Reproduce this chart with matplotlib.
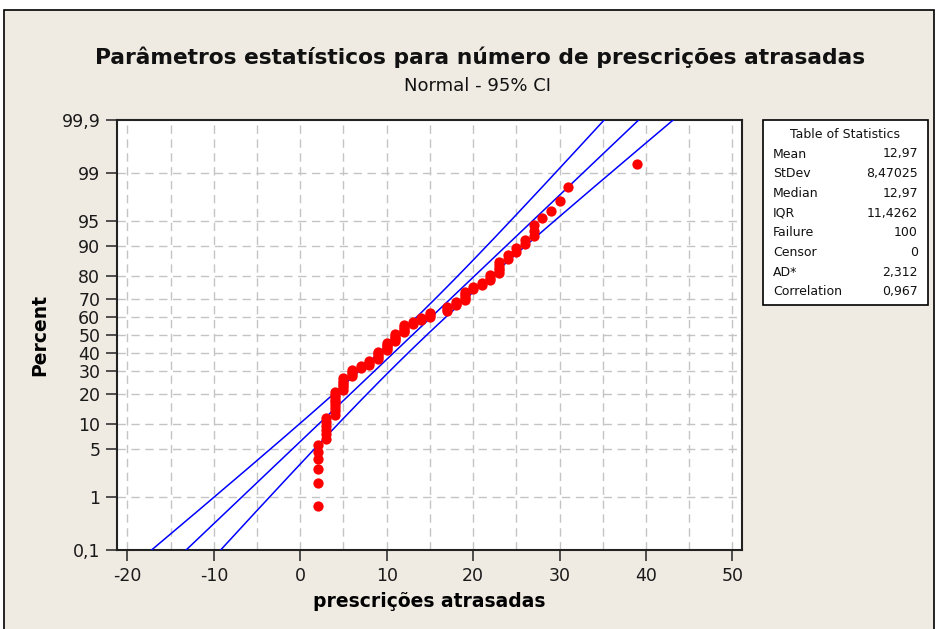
import numpy as np
import matplotlib
matplotlib.use("Agg")
import matplotlib.pyplot as plt
from matplotlib.patches import Rectangle
from statistics import NormalDist

plt.rcParams['axes.unicode_minus'] = False
plt.rcParams['font.family'] = 'DejaVu Sans'

# observed values (integers) and how many times each one occurs
values = [2, 3, 4, 5, 6, 7, 8, 9, 10, 11, 12, 13, 14, 15, 17, 18, 19, 20,
          21, 22, 23, 24, 25, 26, 27, 28, 29, 30, 31, 39]
counts = [6, 6, 9, 6, 4, 2, 3, 5, 5, 5, 5, 2, 2, 3, 3, 3, 5, 2,
          2, 3, 5, 2, 2, 2, 3, 1, 1, 1, 1, 1]

# fitted parameters shown in the table
mean = 12.97
stdev = 8.47025

stat_names = ['Mean', 'StDev', 'Median', 'IQR', 'Failure', 'Censor', 'AD*', 'Correlation']
stat_values = ['12,97', '8,47025', '12,97', '11,4262', '100', '0', '2,312', '0,967']

y_ticks = [0.1, 1, 5, 10, 20, 30, 40, 50, 60, 70, 80, 90, 95, 99, 99.9]
x_ticks = [-20, -10, 0, 10, 20, 30, 40, 50]

nd = NormalDist()
_ppf = np.vectorize(lambda v: nd.inv_cdf(v / 100.0), otypes=[float])
_cdf = np.vectorize(lambda v: nd.cdf(v) * 100.0, otypes=[float])


def pct_to_z(p):
    p = np.clip(np.asarray(p, dtype=float), 1e-6, 100 - 1e-6)
    return _ppf(p)


def z_to_pct(z):
    return _cdf(np.asarray(z, dtype=float))


data = np.repeat(values, counts)
n = len(data)
ranks = np.arange(1, n + 1)
plot_pos = (ranks - 0.3) / (n + 0.4) * 100  # median ranks (Benard)

# fitted line + 95% CI on percentiles
zz = np.linspace(-3.3, 3.3, 300)
fit_x = mean + zz * stdev
half = 1.96 * stdev * np.sqrt(1.0 / n + zz ** 2 / (2.0 * n))
pp = z_to_pct(zz)

BG = '#EFEBE2'
fig = plt.figure(figsize=(9.37, 6.29), dpi=100, facecolor='white')
fig.patches.append(Rectangle((4 / 937, -0.1), 930 / 937, 1.1 - 10 / 629,
                             transform=fig.transFigure, facecolor=BG,
                             edgecolor='black', linewidth=1.2, zorder=-5))

ax = fig.add_axes([117 / 937, 79 / 629, 625 / 937, 430 / 629])
ax.set_facecolor('white')
ax.set_yscale('function', functions=(pct_to_z, z_to_pct))

ax.plot(fit_x, pp, color='#0000FF', lw=1.1, zorder=3)
ax.plot(fit_x - half, pp, color='#0000FF', lw=1.1, zorder=3)
ax.plot(fit_x + half, pp, color='#0000FF', lw=1.1, zorder=3)
ax.plot(data, plot_pos, 'o', color='#FF0000', markersize=7.4, mec='none', zorder=4)

ax.set_xlim(-21.2, 51.1)
ax.set_ylim(0.1, 99.9)

ax.set_yticks(y_ticks)
ax.set_yticklabels([f'{t:g}'.replace('.', ',') for t in y_ticks])
ax.set_xticks(x_ticks)
ax.set_xticklabels([str(t) for t in x_ticks])
ax.yaxis.set_minor_locator(matplotlib.ticker.NullLocator())
ax.tick_params(axis='both', labelsize=12.5, length=8, width=1.2, color='#333333',
               labelcolor='#1a1a1a', pad=4)

# dashed grid
for gx in range(-20, 55, 5):
    ax.axvline(gx, color='#C4C4C4', lw=1.0, ls=(0, (6, 4)), zorder=1)
for gy in y_ticks[1:-1]:
    ax.axhline(gy, color='#C4C4C4', lw=1.0, ls=(0, (6, 4)), zorder=1)

for s in ax.spines.values():
    s.set_linewidth(1.5)
    s.set_color('#222222')

ax.set_xlabel('prescrições atrasadas', fontsize=13.5, fontweight='bold', labelpad=5)
ax.set_ylabel('Percent', fontsize=13.5, fontweight='bold', labelpad=9)

fig.text(480 / 937, 1 - 57 / 629, 'Parâmetros estatísticos para número de prescrições atrasadas',
         ha='center', va='center', fontsize=15.7, fontweight='bold', color='#111111')
fig.text(478 / 937, 1 - 86 / 629, 'Normal - 95% CI', ha='center', va='center',
         fontsize=13, color='#111111')

# statistics table
tx0, tx1 = 763 / 937, 928 / 937
ty0, ty1 = 1 - 305 / 629, 1 - 120 / 629
fig.patches.append(Rectangle((tx0, ty0), tx1 - tx0, ty1 - ty0, transform=fig.transFigure,
                             facecolor='white', edgecolor='black', linewidth=1.2))
fig.text((tx0 + tx1) / 2, 1 - 134 / 629, 'Table of Statistics', ha='center', va='center',
         fontsize=9, color='#111111')
for k, (nm, vl) in enumerate(zip(stat_names, stat_values)):
    yy = 1 - (154 + k * 19.7) / 629
    fig.text(773 / 937, yy, nm, ha='left', va='center', fontsize=9, color='#111111')
    fig.text(918 / 937, yy, vl, ha='right', va='center', fontsize=9, color='#111111')

fig.savefig('out.png', dpi=100, facecolor='white')
